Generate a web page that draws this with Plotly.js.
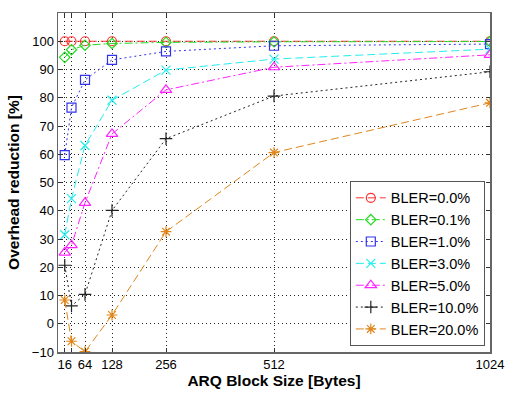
<!DOCTYPE html>
<html><head><meta charset="utf-8">
<script src="https://cdn.plot.ly/plotly-3.0.1.min.js"></script>
<style>html,body{margin:0;padding:0;background:#fff}#chart{width:505px;height:393px}</style>
</head><body><div id="chart"></div>
<script>
const blockSizes = [16, 32, 64, 128, 256, 512, 1024];
const tickVals = [16, 32, 64, 128, 256, 512, 1024];
const tickText = ['16', '', '64', '128', '256', '512', '1024'];
const seriesNames = ['BLER=0.0%', 'BLER=0.1%', 'BLER=1.0%', 'BLER=3.0%', 'BLER=5.0%', 'BLER=10.0%', 'BLER=20.0%'];
const bler00 = [100, 100, 100, 100, 100, 100, 100];
const bler01 = [94.3, 97, 98.6, 99.2, 99.6, 99.8, 99.9];
const bler1 = [59.7, 76.5, 86.3, 93.4, 96.4, 98.4, 99];
const bler3 = [31.5, 44.3, 63.1, 79.1, 89.8, 93.7, 97.2];
const bler5 = [25.2, 27.8, 42.8, 67.2, 82.8, 90.8, 95.2];
const bler10 = [20.7, 6.3, 10.4, 40.1, 65.5, 80.6, 89.2];
const bler20 = [8.4, -6.2, -9.9, 3.1, 32.6, 60.6, 78.2];
const yTicks = [-10, 0, 10, 20, 30, 40, 50, 60, 70, 80, 90, 100];

const seriesVals = [bler00, bler01, bler1, bler3, bler5, bler10, bler20];
const styles = [
  {color: '#ff3030', dash: '8px,4px', symbol: 'circle-open', size: 9},
  {color: '#22dd22', dash: '8px,3px,2px,3px', symbol: 'diamond-open', size: 8},
  {color: '#3333ee', dash: '2px,3px', symbol: 'square-open', size: 9},
  {color: '#22eeee', dash: '8px,4px', symbol: 'x-thin-open', size: 9},
  {color: '#ff22ff', dash: '8px,3px,2px,3px', symbol: 'triangle-up-open', size: 10},
  {color: '#222222', dash: '2px,3px', symbol: 'cross-thin-open', size: 9},
  {color: '#e0861a', dash: '8px,4px', symbol: 'asterisk-open', size: 9}
];
const traces = seriesVals.map((v, i) => ({
  x: blockSizes, y: v, name: seriesNames[i], type: 'scatter', mode: 'lines+markers',
  line: {color: styles[i].color, dash: styles[i].dash, width: 1},
  marker: {symbol: styles[i].symbol, size: styles[i].size, color: styles[i].color, line: {color: styles[i].color, width: 1.2}}
}));
const layout = {
  width: 505, height: 393,
  margin: {l: 58, r: 15, t: 13, b: 41},
  paper_bgcolor: '#fff', plot_bgcolor: '#fff',
  font: {family: 'Liberation Sans, Arial, sans-serif', size: 13, color: '#000'},
  showlegend: true,
  legend: {x: 0.988, y: 0.018, xanchor: 'right', yanchor: 'bottom', bgcolor: '#fff', bordercolor: '#555', borderwidth: 1,
    font: {size: 14.5}, tracegroupgap: 0, itemwidth: 30},
  xaxis: {range: [0, 1024], tickvals: tickVals, ticktext: tickText, ticks: 'inside', ticklen: 4, tickcolor: '#333',
    showline: true, linecolor: '#666', linewidth: 1.5, mirror: 'ticks', zeroline: false,
    showgrid: true, gridcolor: '#222', griddash: '1px,3px', gridwidth: 1,
    title: {text: '<b>ARQ Block Size [Bytes]</b>', font: {size: 15.5}, standoff: 4}},
  yaxis: {range: [-10, 110], tickvals: yTicks, ticks: 'inside', ticklen: 4, tickcolor: '#333',
    showline: true, linecolor: '#666', linewidth: 1.5, mirror: 'ticks', zeroline: false,
    showgrid: true, gridcolor: '#222', griddash: '1px,3px', gridwidth: 1,
    title: {text: '<b>Overhead reduction [%]</b>', font: {size: 15.5}, standoff: 8}}
};
Plotly.newPlot('chart', traces, layout, {displayModeBar: false, staticPlot: true});
</script></body></html>
